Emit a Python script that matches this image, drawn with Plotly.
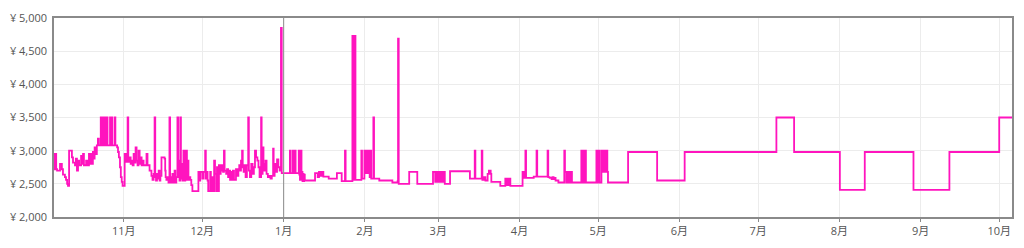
import plotly.graph_objects as go

# ---------------- data (price history, step line) ----------------
oct_dates = ["2022-10-04 00:00", "2022-10-05 14:00", "2022-10-05 20:00", "2022-10-06 06:00", "2022-10-06 14:00",
             "2022-10-07 17:00", "2022-10-08 10:00", "2022-10-08 20:00", "2022-10-09 14:00", "2022-10-10 00:00",
             "2022-10-10 10:00", "2022-10-10 18:00", "2022-10-11 04:00", "2022-10-12 06:00", "2022-10-12 16:00",
             "2022-10-13 10:00", "2022-10-13 18:00", "2022-10-14 04:00", "2022-10-14 14:00", "2022-10-15 00:00",
             "2022-10-15 18:00", "2022-10-16 04:00", "2022-10-16 12:00", "2022-10-16 20:00", "2022-10-17 16:00",
             "2022-10-18 08:00", "2022-10-18 18:00", "2022-10-19 02:00", "2022-10-19 12:00", "2022-10-19 20:00",
             "2022-10-20 06:00", "2022-10-20 14:00", "2022-10-20 22:00", "2022-10-21 08:00", "2022-10-21 18:00",
             "2022-10-22 04:00", "2022-10-22 12:00", "2022-10-23 06:00", "2022-10-23 12:00", "2022-10-23 22:00",
             "2022-10-24 04:00", "2022-10-24 19:00", "2022-10-25 01:00", "2022-10-25 14:00", "2022-10-25 20:00",
             "2022-10-26 19:00", "2022-10-27 01:00", "2022-10-27 10:00", "2022-10-27 16:00", "2022-10-28 14:00",
             "2022-10-28 20:00", "2022-10-29 12:00", "2022-10-29 20:00", "2022-10-30 04:00", "2022-10-30 14:00",
             "2022-10-30 22:00", "2022-10-31 06:00", "2022-10-31 14:00"]
oct_prices = [2950, 2720, 2950, 2720, 2700,
              2800, 2720, 2640, 2600, 2560,
              2500, 2470, 3000, 2900, 2820,
              2780, 2880, 2700, 2850, 2780,
              2920, 2800, 2950, 2780, 2850,
              2780, 2950, 2800, 2950, 2800,
              2980, 2880, 3050, 2950, 3080,
              3180, 3080, 3500, 3080, 3500,
              3080, 3500, 3080, 3500, 3080,
              3500, 3080, 3500, 3080, 3500,
              3080, 3050, 2980, 2900, 2750,
              2600, 2530, 2470]

nov_dates = ["2022-11-01 09:00", "2022-11-01 18:00", "2022-11-02 03:00", "2022-11-02 12:00", "2022-11-02 18:00",
             "2022-11-03 07:00", "2022-11-03 16:00", "2022-11-04 01:00", "2022-11-04 10:00", "2022-11-04 19:00",
             "2022-11-05 04:00", "2022-11-05 13:00", "2022-11-05 22:00", "2022-11-06 07:00", "2022-11-06 16:00",
             "2022-11-07 02:00", "2022-11-07 11:00", "2022-11-07 20:00", "2022-11-08 05:00", "2022-11-08 14:00",
             "2022-11-09 17:00", "2022-11-10 02:00", "2022-11-10 21:00", "2022-11-11 14:00", "2022-11-12 00:00",
             "2022-11-12 10:00", "2022-11-12 19:00", "2022-11-13 01:00", "2022-11-13 08:00", "2022-11-13 17:00",
             "2022-11-14 00:00", "2022-11-14 08:00", "2022-11-14 17:00", "2022-11-15 00:00", "2022-11-15 10:00",
             "2022-11-16 14:00", "2022-11-16 20:00", "2022-11-17 00:00", "2022-11-17 07:00", "2022-11-17 16:00",
             "2022-11-18 02:00", "2022-11-18 11:00", "2022-11-18 17:00", "2022-11-19 00:00", "2022-11-19 06:00",
             "2022-11-19 14:00", "2022-11-20 00:00", "2022-11-20 10:00", "2022-11-20 17:00", "2022-11-21 02:00",
             "2022-11-21 12:00", "2022-11-21 18:00", "2022-11-21 22:00", "2022-11-22 07:00", "2022-11-22 14:00",
             "2022-11-22 20:00", "2022-11-23 00:00", "2022-11-23 10:00", "2022-11-23 19:00", "2022-11-24 00:00",
             "2022-11-24 03:00", "2022-11-24 09:00", "2022-11-24 12:00", "2022-11-24 18:00", "2022-11-24 21:00",
             "2022-11-25 03:00", "2022-11-25 07:00", "2022-11-25 17:00", "2022-11-26 00:00", "2022-11-26 10:00",
             "2022-11-26 19:00", "2022-11-27 05:00", "2022-11-29 12:00", "2022-11-29 19:00", "2022-11-30 05:00"]
nov_prices = [2950, 2830, 2950, 3500, 2830,
              2900, 2800, 2850, 2780, 2950,
              2820, 3050, 2850, 2780, 3000,
              2800, 2900, 2780, 2850, 2780,
              2950, 2780, 2700, 2620, 2560,
              2650, 3500, 2600, 2550, 2650,
              2580, 2700, 2550, 2620, 2900,
              2880, 2700, 2600, 2560, 2600,
              2520, 3500, 2520, 2600, 2520,
              2650, 2520, 2700, 2520, 2600,
              3500, 2600, 2850, 2550, 3500,
              2580, 2800, 2550, 3000, 2600,
              3000, 2550, 3000, 2650, 3000,
              2560, 2850, 2560, 2600, 2560,
              2480, 2390, 2680, 2550, 2680]

dec_dates = ["2022-12-01 00:00", "2022-12-01 12:00", "2022-12-02 02:00", "2022-12-02 08:00", "2022-12-02 16:00",
             "2022-12-03 00:00", "2022-12-03 06:00", "2022-12-04 00:00", "2022-12-04 06:00", "2022-12-04 18:00",
             "2022-12-05 03:00", "2022-12-05 12:00", "2022-12-05 20:00", "2022-12-06 06:00", "2022-12-06 14:00",
             "2022-12-06 22:00", "2022-12-07 08:00", "2022-12-07 16:00", "2022-12-08 00:00", "2022-12-08 08:00",
             "2022-12-08 14:00", "2022-12-08 22:00", "2022-12-09 06:00", "2022-12-09 12:00", "2022-12-10 02:00",
             "2022-12-10 10:00", "2022-12-10 20:00", "2022-12-11 04:00", "2022-12-11 14:00", "2022-12-12 00:00",
             "2022-12-12 08:00", "2022-12-12 16:00", "2022-12-13 02:00", "2022-12-13 20:00", "2022-12-14 10:00",
             "2022-12-14 18:00", "2022-12-15 02:00", "2022-12-15 10:00", "2022-12-15 18:00", "2022-12-16 04:00",
             "2022-12-16 10:00", "2022-12-16 18:00", "2022-12-17 02:00", "2022-12-17 12:00", "2022-12-18 00:00",
             "2022-12-18 12:00", "2022-12-18 18:00", "2022-12-19 04:00", "2022-12-19 16:00", "2022-12-20 04:00",
             "2022-12-20 16:00", "2022-12-21 02:00", "2022-12-21 12:00", "2022-12-22 00:00", "2022-12-22 10:00",
             "2022-12-22 20:00", "2022-12-23 10:00", "2022-12-23 15:00", "2022-12-24 00:00", "2022-12-24 08:00",
             "2022-12-24 16:00", "2022-12-25 02:00", "2022-12-25 12:00", "2022-12-26 00:00", "2022-12-26 12:00",
             "2022-12-27 00:00", "2022-12-27 12:00", "2022-12-28 00:00", "2022-12-28 05:00", "2022-12-28 14:00",
             "2022-12-29 00:00", "2022-12-29 12:00", "2022-12-30 00:00", "2022-12-30 12:00", "2022-12-31 00:00",
             "2022-12-31 07:00"]
dec_prices = [2580, 2680, 3000, 2580, 2680,
              2550, 2390, 2680, 2390, 2600,
              2390, 2850, 2650, 2390, 2750,
              2390, 2780, 2650, 2780, 2700,
              2780, 2680, 3000, 2700, 2650,
              2720, 2600, 2700, 2560, 2680,
              2560, 2700, 2560, 2720, 2620,
              2720, 2780, 2700, 2850, 3000,
              2750, 2680, 2780, 2600, 2780,
              3500, 2700, 2600, 2800, 2650,
              2750, 3000, 2900, 2850, 2750,
              2600, 3500, 2650, 3050, 2800,
              2700, 2850, 2650, 2600, 2620,
              2580, 2620, 3030, 2620, 2800,
              2680, 2870, 2750, 2700, 4850,
              2660]

jan_dates = ["2023-01-03 10:00", "2023-01-03 16:00", "2023-01-04 12:00", "2023-01-04 18:00", "2023-01-05 08:00",
             "2023-01-05 14:00", "2023-01-06 19:00", "2023-01-07 00:00", "2023-01-07 06:00", "2023-01-07 12:00",
             "2023-01-07 15:00", "2023-01-07 20:00", "2023-01-08 00:00", "2023-01-08 05:00", "2023-01-08 10:00",
             "2023-01-08 15:00", "2023-01-08 20:00", "2023-01-09 02:00", "2023-01-13 00:00", "2023-01-14 00:00",
             "2023-01-14 12:00", "2023-01-15 00:00", "2023-01-15 12:00", "2023-01-16 04:00", "2023-01-18 05:00",
             "2023-01-21 08:00", "2023-01-23 04:00", "2023-01-24 10:00", "2023-01-24 16:00", "2023-01-27 06:00",
             "2023-01-27 14:00", "2023-01-27 20:00", "2023-01-28 10:00", "2023-01-30 16:00", "2023-01-30 22:00",
             "2023-01-31 20:00", "2023-02-01 02:00"]
jan_prices = [3000, 2660, 3000, 2660, 3000,
              2660, 3000, 2640, 2560, 2680,
              3000, 2560, 2680, 2540, 2650,
              2540, 2640, 2550, 2660, 2600,
              2680, 2620, 2680, 2610, 2580,
              2660, 2540, 3000, 2540, 4730,
              2560, 4730, 2560, 3000, 2580,
              3000, 2660]

feb_dates = ["2023-02-01 16:00", "2023-02-01 22:00", "2023-02-02 14:00", "2023-02-02 20:00", "2023-02-03 04:00",
             "2023-02-03 10:00", "2023-02-04 06:00", "2023-02-04 12:00", "2023-02-06 12:00", "2023-02-11 12:00",
             "2023-02-13 12:00", "2023-02-13 16:00", "2023-02-13 22:00", "2023-02-17 22:00", "2023-02-21 00:00",
             "2023-02-27 00:00", "2023-02-27 20:00", "2023-02-28 06:00", "2023-02-28 18:00"]
feb_prices = [3000, 2660, 3000, 2600, 3000,
              2580, 3500, 2580, 2550, 2520,
              2540, 4690, 2500, 2680, 2500,
              2680, 2530, 2680, 2530]

mar_dates = ["2023-03-01 04:00", "2023-03-01 16:00", "2023-03-02 04:00", "2023-03-02 14:00", "2023-03-03 04:00",
             "2023-03-03 12:00", "2023-03-05 12:00", "2023-03-13 02:00", "2023-03-14 22:00", "2023-03-15 04:00",
             "2023-03-17 14:00", "2023-03-17 20:00", "2023-03-18 12:00", "2023-03-19 00:00", "2023-03-19 20:00",
             "2023-03-20 08:00", "2023-03-21 00:00", "2023-03-21 06:00", "2023-03-24 16:00", "2023-03-26 14:00",
             "2023-03-27 06:00", "2023-03-27 12:00", "2023-03-28 00:00", "2023-03-28 06:00", "2023-03-28 12:00"]
mar_prices = [2680, 2530, 2680, 2530, 2680,
              2500, 2690, 2580, 3000, 2580,
              3000, 2560, 2600, 2550, 2650,
              2700, 2650, 2530, 2470, 2580,
              2480, 2580, 2480, 2580, 2470]

apr_dates = ["2023-04-02 04:00", "2023-04-02 16:00", "2023-04-03 06:00", "2023-04-03 12:00", "2023-04-06 10:00",
             "2023-04-07 12:00", "2023-04-07 18:00", "2023-04-11 17:00", "2023-04-11 23:00", "2023-04-12 12:00",
             "2023-04-13 06:00", "2023-04-13 12:00", "2023-04-14 00:00", "2023-04-14 12:00", "2023-04-14 18:00",
             "2023-04-15 20:00", "2023-04-18 02:00", "2023-04-18 08:00", "2023-04-18 20:00", "2023-04-19 04:00",
             "2023-04-19 14:00", "2023-04-19 22:00", "2023-04-20 08:00", "2023-04-20 16:00", "2023-04-21 00:00",
             "2023-04-24 14:00", "2023-04-24 20:00", "2023-04-25 10:00", "2023-04-25 16:00", "2023-04-26 02:00",
             "2023-04-26 08:00", "2023-04-30 08:00", "2023-04-30 14:00"]
apr_prices = [2680, 2590, 3000, 2590, 2610,
              3000, 2610, 3000, 2600, 2590,
              2570, 2600, 2570, 2590, 2550,
              2520, 3000, 2680, 2520, 2680,
              2520, 2680, 2520, 2680, 2520,
              3000, 2520, 3000, 2520, 3000,
              2520, 3000, 2520]

late_dates = ["2023-05-01 06:00", "2023-05-01 12:00", "2023-05-02 06:00", "2023-05-02 12:00", "2023-05-02 18:00",
              "2023-05-03 00:00", "2023-05-03 06:00", "2023-05-03 12:00", "2023-05-03 18:00", "2023-05-04 00:00",
              "2023-05-04 06:00", "2023-05-04 12:00", "2023-05-04 18:00", "2023-05-12 10:00", "2023-05-23 12:00",
              "2023-06-03 00:00", "2023-07-08 00:00", "2023-07-14 18:00", "2023-08-01 05:00", "2023-08-10 17:00",
              "2023-08-29 07:00", "2023-09-12 00:00", "2023-10-01 00:00", "2023-10-07 00:00"]
late_prices = [3000, 2520, 3000, 2680, 3000,
               2680, 3000, 2680, 3000, 2680,
               3000, 2680, 2520, 2980, 2550,
               2980, 3500, 2980, 2410, 2980,
               2410, 2980, 3500, 3500]

dates = oct_dates + nov_dates + dec_dates + jan_dates + feb_dates + mar_dates + apr_dates + late_dates
prices = oct_prices + nov_prices + dec_prices + jan_prices + feb_prices + mar_prices + apr_prices + late_prices

month_ticks = ["2022-11-01", "2022-12-01", "2023-01-01", "2023-02-01", "2023-03-01", "2023-04-01",
               "2023-05-01", "2023-06-01", "2023-07-01", "2023-08-01", "2023-09-01", "2023-10-01"]
month_labels = ["11月", "12月", "1月", "2月", "3月", "4月", "5月", "6月", "7月", "8月", "9月", "10月"]
price_ticks = [2000, 2500, 3000, 3500, 4000, 4500, 5000]
price_labels = ["¥ 2,000", "¥ 2,500", "¥ 3,000", "¥ 3,500", "¥ 4,000", "¥ 4,500", "¥ 5,000"]
year_marker = "2023-01-01"

# ---------------- figure ----------------
font_family = "Open Sans, Noto Sans CJK JP, sans-serif"

fig = go.Figure()
fig.add_trace(go.Scatter(
    x=dates, y=prices, mode="lines",
    line=dict(color="#ff14be", width=1.8, shape="hv"),
    hoverinfo="skip", showlegend=False,
))

fig.add_shape(type="line", xref="x", yref="paper", x0=year_marker, x1=year_marker, y0=0, y1=1,
              line=dict(color="#9a9a9a", width=1.2), layer="above")

fig.update_layout(
    width=1024, height=248,
    margin=dict(l=51, r=10, t=10, b=16, pad=0),
    paper_bgcolor="white", plot_bgcolor="white",
    font=dict(family=font_family, size=11, color="#555555"),
    showlegend=False,
)
fig.update_xaxes(
    type="date",
    range=["2022-10-05 10:00", "2023-10-05 21:00"],
    tickvals=month_ticks, ticktext=month_labels,
    showgrid=True, gridcolor="#ececec", gridwidth=1,
    showline=True, linecolor="#8a8a8a", linewidth=1.5, mirror=True,
    ticks="outside", ticklen=3, tickcolor="#8a8a8a",
    tickfont=dict(size=11, color="#555555"),
    zeroline=False,
)
fig.update_yaxes(
    range=[2000, 5000],
    tickvals=price_ticks, ticktext=price_labels,
    showgrid=True, gridcolor="#ececec", gridwidth=1,
    showline=True, linecolor="#8a8a8a", linewidth=1.5, mirror=True,
    ticks="", ticklabelstandoff=3,
    tickfont=dict(size=11, color="#555555"),
    zeroline=False,
)

fig.write_html("out.html")
